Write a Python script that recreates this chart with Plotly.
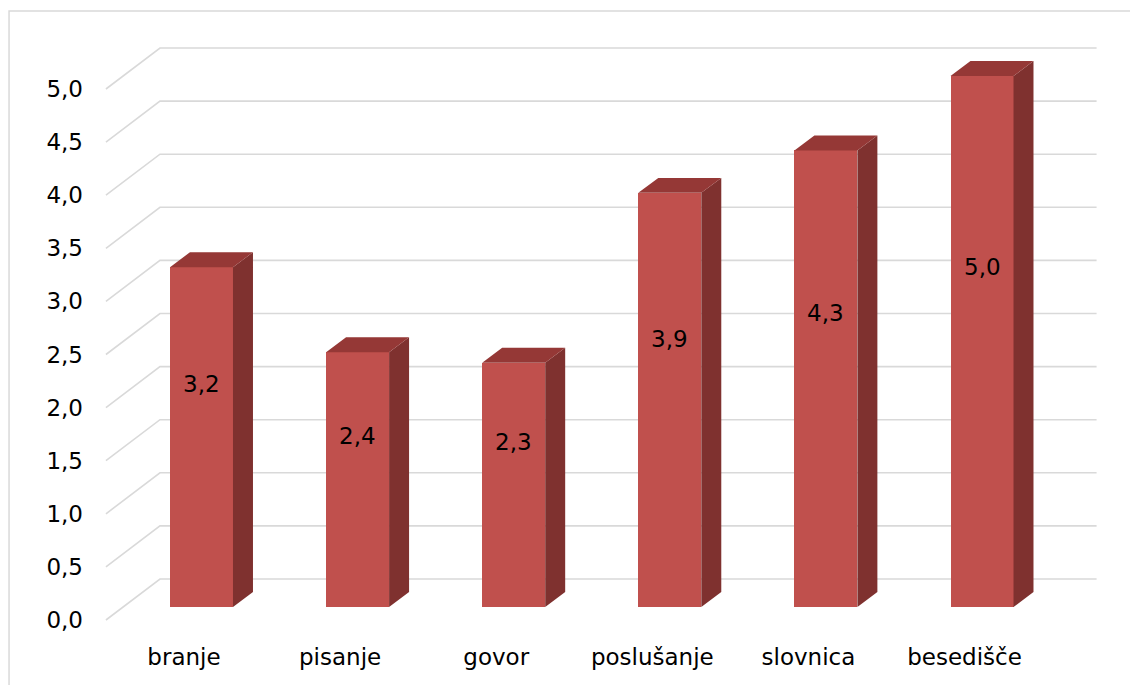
import plotly.graph_objects as go

categories = ["branje", "pisanje", "govor", "poslušanje", "slovnica", "besedišče"]
values = [3.2, 2.4, 2.3, 3.9, 4.3, 5.0]
y_ticks = [0.0, 0.5, 1.0, 1.5, 2.0, 2.5, 3.0, 3.5, 4.0, 4.5, 5.0]

# projection constants (axis units)
WALL_DX, WALL_DY = 0.346, 0.386      # front plane -> back wall
BAR_BASE = 0.122                     # bar front face sits this far into the floor
BAR_SHIFT = 0.112                    # x shift of bar front face vs. category position
BAR_W = 0.4036
DEP_DX, DEP_DY = 0.128, 0.141        # bar depth
FRONT = "#c0504d"
SIDE = "#7f312f"
TOP = "#953836"
GRID = "#d9d9d9"
FONT = "DejaVu Sans"

fig = go.Figure()

# back-wall gridlines with diagonal on the left side wall (drawn below all traces)
for v in y_ticks:
    x0, x1, x2 = -0.5, -0.5 + WALL_DX, len(categories) - 0.5 + WALL_DX
    y0, y1 = v, v + WALL_DY
    fig.add_shape(type="path", xref="x", yref="y",
                  path=f"M {x0},{y0} L {x1},{y1} L {x2},{y1}",
                  line=dict(color=GRID, width=1.6), layer="below")

xs = [i + BAR_SHIFT for i in range(len(categories))]

# front faces
fig.add_trace(go.Bar(x=xs, y=values, base=[BAR_BASE] * len(values), width=BAR_W,
                     marker=dict(color=FRONT, line=dict(width=0)), showlegend=False,
                     hoverinfo="skip"))

# side faces and top faces
sx, sy, tx, ty = [], [], [], []
for x, v in zip(xs, values):
    r = x + BAR_W / 2
    l = x - BAR_W / 2
    top = BAR_BASE + v
    sx += [r, r + DEP_DX, r + DEP_DX, r, r, None]
    sy += [BAR_BASE, BAR_BASE + DEP_DY, top + DEP_DY, top, BAR_BASE, None]
    tx += [l, l + DEP_DX, r + DEP_DX, r, l, None]
    ty += [top, top + DEP_DY, top + DEP_DY, top, top, None]
fig.add_trace(go.Scatter(x=sx, y=sy, mode="lines", fill="toself", fillcolor=SIDE,
                         line=dict(width=0, color=SIDE), hoverinfo="skip", showlegend=False))
fig.add_trace(go.Scatter(x=tx, y=ty, mode="lines", fill="toself", fillcolor=TOP,
                         line=dict(width=0, color=TOP), hoverinfo="skip", showlegend=False))

# data labels
for x, v in zip(xs, values):
    fig.add_annotation(x=x, y=0.27 + 0.61 * v, text=f"{v:.1f}".replace(".", ","),
                       showarrow=False, font=dict(family=FONT, size=23, color="black"),
                       xanchor="center", yanchor="middle")

# chart border
fig.add_shape(type="rect", xref="paper", yref="paper", x0=-0.0786, y0=-0.2, x1=1.2, y1=1.0314,
              line=dict(color=GRID, width=1.5), layer="below")

fig.update_layout(
    width=1130, height=685,
    margin=dict(l=90, r=10, t=30, b=50),
    paper_bgcolor="white", plot_bgcolor="white",
    separators=", ",
    font=dict(family=FONT, size=23, color="black"),
    xaxis=dict(range=[-0.6022, 5.996], tickvals=list(range(len(categories))), ticktext=categories,
               showgrid=False, zeroline=False, showline=False, ticks="",
               ticklabelstandoff=6,
               tickfont=dict(family=FONT, size=23, color="black"), fixedrange=True),
    yaxis=dict(range=[-0.1412, 5.5556], tickvals=y_ticks, tickformat=".1f",
               showgrid=False, zeroline=False, showline=False, ticks="",
               ticklabelstandoff=6,
               tickfont=dict(family=FONT, size=23, color="black"), fixedrange=True),
    bargap=0, showlegend=False,
)

fig.write_html("out.html")
